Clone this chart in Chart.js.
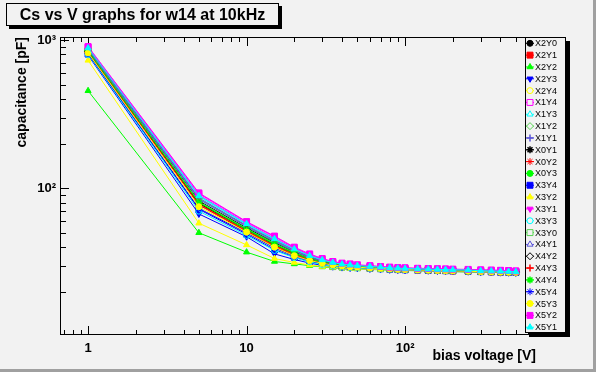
<!DOCTYPE html>
<html>
<head>
<meta charset="utf-8">
<script src="https://cdn.jsdelivr.net/npm/chart.js@4.4.0/dist/chart.umd.min.js"></script>
<style>
    html, body { margin: 0; padding: 0; background: #f2f2f2; }
    #wrap { position: relative; width: 596px; height: 372px; overflow: hidden; }
    #c { display: block; }
    #title {
        position: absolute; left: 6px; top: 3px; width: 271px; height: 21px;
        border: 1px solid #000; box-shadow: 3px 3px 0 #000; background: #f2f2f2;
        font: bold 16px "Liberation Sans", Arial, sans-serif; line-height: 21px;
        text-align: center; color: #000;
    }
</style>
</head>
<body>
<div id="wrap">
    <canvas id="c" width="596" height="372"></canvas>
    <div id="title">Cs vs V graphs for w14 at 10kHz</div>
</div>
<script>
// bias voltage [V]
const voltages = [1, 5, 10, 15, 20, 25, 30, 35, 40, 45, 50, 60, 70, 80, 90, 100, 120, 140, 160, 180, 200, 250, 300, 350, 400, 450, 500];

const names = ["X2Y0", "X2Y1", "X2Y2", "X2Y3", "X2Y4", "X1Y4", "X1Y3", "X1Y2", "X1Y1", "X0Y1", "X0Y2", "X0Y3",
    "X3Y4", "X3Y2", "X3Y1", "X3Y3", "X3Y0", "X4Y1", "X4Y2", "X4Y3", "X4Y4", "X5Y4", "X5Y3", "X5Y2", "X5Y1"];

// capacitance [pF]
const cX2Y0 = [860, 82, 54, 43, 37, 33.8, 32.0, 31.0, 30.3, 30.0, 29.7, 29.3, 29.0, 28.8, 28.6, 28.5, 28.3, 28.2, 28.1, 28.0, 27.9, 27.8, 27.6, 27.5, 27.4, 27.35, 27.3];
const cX2Y1 = [850, 79, 52, 40.5, 35.5, 32.8, 31.3, 30.5, 29.9, 29.6, 29.4, 29.0, 28.8, 28.6, 28.4, 28.3, 28.1, 28.0, 27.9, 27.8, 27.7, 27.6, 27.4, 27.3, 27.2, 27.15, 27.1];
const cX2Y2 = [455, 50, 37, 32, 30.8, 30.0, 29.4, 29.0, 28.8, 28.6, 28.5, 28.3, 28.1, 28.0, 27.9, 27.8, 27.7, 27.6, 27.5, 27.4, 27.3, 27.2, 27.1, 27.0, 26.9, 26.85, 26.8];
const cX2Y3 = [790, 67, 47, 36, 33, 31.2, 30.1, 29.5, 29.1, 28.9, 28.8, 28.5, 28.3, 28.1, 28.0, 27.9, 27.8, 27.7, 27.6, 27.5, 27.4, 27.3, 27.1, 27.0, 26.9, 26.85, 26.8];
const cX2Y4 = [840, 78, 52, 41, 36, 33.2, 31.6, 30.7, 30.1, 29.8, 29.5, 29.1, 28.8, 28.6, 28.4, 28.3, 28.1, 28.0, 27.9, 27.8, 27.7, 27.6, 27.4, 27.3, 27.2, 27.15, 27.1];
const cX1Y4 = [900, 92, 59, 47, 39.5, 35.6, 33.2, 31.8, 31.0, 30.6, 30.2, 29.8, 29.5, 29.2, 29.0, 28.9, 28.7, 28.6, 28.5, 28.4, 28.3, 28.2, 28.0, 27.9, 27.8, 27.7, 27.6];
const cX1Y3 = [880, 88, 57, 45, 38.5, 34.8, 32.6, 31.3, 30.6, 30.2, 29.9, 29.5, 29.2, 29.0, 28.8, 28.6, 28.4, 28.3, 28.2, 28.1, 28.0, 27.9, 27.7, 27.6, 27.5, 27.4, 27.3];
const cX1Y2 = [870, 85, 55.5, 44, 38, 34.3, 32.3, 31.1, 30.4, 30.1, 29.8, 29.4, 29.1, 28.9, 28.7, 28.6, 28.4, 28.3, 28.2, 28.1, 28.0, 27.9, 27.7, 27.6, 27.5, 27.4, 27.3];
const cX1Y1 = [875, 86, 56, 44.5, 38.2, 34.5, 32.4, 31.2, 30.5, 30.2, 29.9, 29.5, 29.2, 29.0, 28.8, 28.6, 28.4, 28.3, 28.2, 28.1, 28.0, 27.9, 27.7, 27.6, 27.5, 27.4, 27.3];
const cX0Y1 = [845, 80, 53, 42, 36.5, 33.5, 31.8, 30.8, 30.2, 29.9, 29.6, 29.2, 28.9, 28.7, 28.5, 28.4, 28.2, 28.1, 28.0, 27.9, 27.8, 27.7, 27.5, 27.4, 27.3, 27.25, 27.2];
const cX0Y2 = [835, 77, 51, 40, 35.2, 32.6, 31.1, 30.3, 29.8, 29.5, 29.3, 28.9, 28.7, 28.5, 28.3, 28.2, 28.0, 27.9, 27.8, 27.7, 27.7, 27.6, 27.4, 27.3, 27.2, 27.15, 27.1];
const cX0Y3 = [855, 81, 53.5, 42.5, 36.8, 33.6, 31.9, 30.9, 30.3, 30.0, 29.7, 29.3, 29.0, 28.8, 28.6, 28.5, 28.3, 28.2, 28.1, 28.0, 27.8, 27.7, 27.5, 27.4, 27.3, 27.25, 27.2];
const cX3Y4 = [805, 72, 49, 38.5, 34.2, 32.0, 30.7, 29.9, 29.5, 29.3, 29.1, 28.8, 28.6, 28.4, 28.2, 28.1, 28.0, 27.9, 27.8, 27.7, 27.6, 27.5, 27.3, 27.2, 27.1, 27.05, 27.0];
const cX3Y2 = [730, 58, 41.4, 33.5, 31.5, 30.3, 29.6, 29.2, 28.9, 28.7, 28.6, 28.4, 28.2, 28.1, 28.0, 27.9, 27.8, 27.7, 27.6, 27.5, 27.4, 27.3, 27.2, 27.1, 27.0, 26.95, 26.9];
const cX3Y1 = [890, 90, 58, 46, 39, 35.2, 32.9, 31.6, 30.8, 30.4, 30.1, 29.7, 29.4, 29.1, 28.9, 28.8, 28.6, 28.5, 28.4, 28.3, 28.2, 28.1, 27.8, 27.7, 27.6, 27.5, 27.4];
const cX3Y3 = [800, 70, 48, 38, 34, 31.8, 30.5, 29.8, 29.4, 29.2, 29.0, 28.7, 28.5, 28.3, 28.2, 28.1, 28.0, 27.9, 27.8, 27.7, 27.6, 27.5, 27.3, 27.2, 27.1, 27.05, 27.0];
const cX3Y0 = [850, 81, 53, 42, 36.6, 33.5, 31.8, 30.8, 30.2, 29.9, 29.6, 29.2, 28.9, 28.7, 28.5, 28.4, 28.2, 28.1, 28.0, 27.9, 27.8, 27.7, 27.5, 27.4, 27.3, 27.25, 27.2];
const cX4Y1 = [865, 84, 55, 43.5, 37.5, 34.0, 32.1, 31.0, 30.4, 30.1, 29.8, 29.4, 29.1, 28.9, 28.7, 28.5, 28.3, 28.2, 28.1, 28.0, 27.9, 27.8, 27.6, 27.5, 27.4, 27.3, 27.2];
const cX4Y2 = [840, 79, 52.5, 41.5, 36.2, 33.2, 31.6, 30.7, 30.1, 29.8, 29.5, 29.1, 28.8, 28.6, 28.4, 28.3, 28.1, 28.0, 27.9, 27.8, 27.7, 27.6, 27.4, 27.3, 27.2, 27.15, 27.1];
const cX4Y3 = [830, 78, 51.5, 41, 35.8, 33.0, 31.4, 30.5, 29.9, 29.6, 29.4, 29.0, 28.8, 28.6, 28.4, 28.3, 28.1, 28.0, 27.9, 27.8, 27.7, 27.6, 27.4, 27.3, 27.2, 27.15, 27.1];
const cX4Y4 = [845, 80, 52.5, 41.8, 36.3, 33.3, 31.7, 30.8, 30.2, 29.9, 29.6, 29.2, 28.9, 28.7, 28.5, 28.4, 28.2, 28.1, 28.0, 27.9, 27.8, 27.7, 27.5, 27.4, 27.3, 27.25, 27.2];
const cX5Y4 = [810, 73, 50, 39.5, 34.8, 32.4, 31.0, 30.2, 29.7, 29.4, 29.2, 28.9, 28.7, 28.5, 28.3, 28.2, 28.1, 28.0, 27.9, 27.8, 27.7, 27.6, 27.4, 27.3, 27.2, 27.15, 27.1];
const cX5Y3 = [820, 75, 50.5, 40, 35, 32.5, 31.1, 30.3, 29.8, 29.5, 29.3, 28.9, 28.7, 28.5, 28.3, 28.2, 28.0, 27.9, 27.8, 27.7, 27.6, 27.5, 27.3, 27.2, 27.1, 27.05, 27.0];
const cX5Y2 = [905, 93, 59.5, 47.5, 40, 36, 33.5, 32.0, 31.2, 30.8, 30.4, 30.0, 29.6, 29.3, 29.1, 29.0, 28.8, 28.7, 28.6, 28.5, 28.4, 28.3, 28.1, 28.0, 27.9, 27.8, 27.6];
const cX5Y1 = [885, 89, 57.5, 45.5, 38.8, 35.0, 32.8, 31.5, 30.7, 30.3, 30.0, 29.6, 29.3, 29.0, 28.8, 28.7, 28.5, 28.4, 28.3, 28.2, 28.1, 28.0, 27.7, 27.6, 27.5, 27.4, 27.3];

const series = [cX2Y0, cX2Y1, cX2Y2, cX2Y3, cX2Y4, cX1Y4, cX1Y3, cX1Y2, cX1Y1, cX0Y1, cX0Y2, cX0Y3,
    cX3Y4, cX3Y2, cX3Y1, cX3Y3, cX3Y0, cX4Y1, cX4Y2, cX4Y3, cX4Y4, cX5Y4, cX5Y3, cX5Y2, cX5Y1];

// ROOT colour index 1..9 and marker 20..30, cycled
const rootColors = ["#000000", "#ff0000", "#00ff00", "#0000ff", "#ffff00", "#ff00ff", "#00ffff", "#59d454", "#5954d8"];
const BG = "#f2f2f2";
const FONT = '"Liberation Sans", Arial, sans-serif';

function markerStyle(m) {
    switch (m) {
        case 20: return { style: "circle", r: 3, fill: true };
        case 21: return { style: "rect", r: 4.2, fill: true };
        case 22: return { style: "triangle", r: 3.5, fill: true };
        case 23: return { style: "triangle", r: 3.5, fill: true, rot: 180 };
        case 24: return { style: "circle", r: 3, fill: false };
        case 25: return { style: "rect", r: 4.2, fill: false };
        case 26: return { style: "triangle", r: 3.5, fill: false };
        case 27: return { style: "rectRot", r: 3.5, fill: false };
        case 28: return { style: "cross", r: 3.5, fill: false, bw: 1.5 };
        case 29: return { style: "star", r: 3.5, fill: false, bw: 1.5 };
        default: return { style: "star", r: 3.5, fill: false };
    }
}

function decadeLabel(value) {
    const l = Math.log10(value);
    if (Math.abs(l - Math.round(l)) > 1e-6) return "";
    const n = Math.round(l);
    if (n === 0) return "1";
    if (n === 1) return "10";
    const sup = { 2: "²", 3: "³", 4: "⁴" };
    return "10" + (sup[n] || "");
}

const datasets = names.map((name, i) => {
    const mk = markerStyle(20 + (i % 11));
    const col = rootColors[i % 9];
    return {
        label: name,
        data: voltages.map((v, k) => ({ x: v, y: series[i][k] })),
        borderColor: col,
        borderWidth: 1,
        pointStyle: mk.style,
        pointRotation: mk.rot || 0,
        pointRadius: mk.r,
        pointBackgroundColor: mk.fill ? col : "rgba(0,0,0,0)",
        pointBorderColor: col,
        pointBorderWidth: mk.bw || 1,
        tension: 0,
        fill: false,
        order: 100 - i,
    };
});

// fond, cadre et graduations vers l'intérieur (style ROOT)
const rootFrame = {
    id: "rootFrame",
    beforeDraw(chart) {
        const ctx = chart.ctx;
        ctx.save();
        ctx.fillStyle = BG;
        ctx.fillRect(0, 0, chart.width, chart.height);
        ctx.fillStyle = "#a0a0a0";
        ctx.fillRect(chart.width - 3, 0, 3, chart.height);
        ctx.fillRect(0, chart.height - 3, chart.width, 3);
        ctx.restore();
    },
    beforeDatasetsDraw(chart) {
        const ctx = chart.ctx;
        const { left, right, top, bottom } = chart.chartArea;
        const xs = chart.scales.x, ys = chart.scales.y;
        ctx.save();
        ctx.strokeStyle = "#000";
        ctx.lineWidth = 1;
        ctx.strokeRect(left + 0.5, top + 0.5, right - left - 1, bottom - top - 1);
        ctx.beginPath();
        for (let d = -1; d <= 3; d++) {
            for (let m = 1; m <= 9; m++) {
                const v = m * Math.pow(10, d);
                if (v < xs.min || v > xs.max) continue;
                const px = Math.round(xs.getPixelForValue(v)) + 0.5;
                const len = m === 1 ? 9 : 5;
                ctx.moveTo(px, bottom); ctx.lineTo(px, bottom - len);
                ctx.moveTo(px, top); ctx.lineTo(px, top + len);
            }
        }
        for (let d = 0; d <= 3; d++) {
            for (let m = 1; m <= 9; m++) {
                const v = m * Math.pow(10, d);
                if (v < ys.min || v > ys.max) continue;
                const py = Math.round(ys.getPixelForValue(v)) + 0.5;
                const len = m === 1 ? 9 : 6;
                ctx.moveTo(left, py); ctx.lineTo(left + len, py);
                ctx.moveTo(right, py); ctx.lineTo(right - len, py);
            }
        }
        ctx.stroke();
        ctx.restore();
    },
    afterDraw(chart) {
        // légende
        const ctx = chart.ctx;
        const x0 = 525, y0 = 37, w = 41, h = 296;
        ctx.save();
        ctx.fillStyle = "#000";
        ctx.fillRect(x0 + 4, y0 + 4, w, h);
        ctx.fillStyle = BG;
        ctx.fillRect(x0, y0, w, h);
        ctx.strokeStyle = "#000";
        ctx.lineWidth = 1;
        ctx.strokeRect(x0 + 0.5, y0 + 0.5, w - 1, h - 1);
        chart.data.datasets.forEach((ds, i) => {
            const y = y0 + 6.3 + i * 11.83;
            ctx.strokeStyle = ds.borderColor;
            ctx.lineWidth = 1;
            ctx.beginPath();
            ctx.moveTo(526, y); ctx.lineTo(534, y);
            ctx.stroke();
            ctx.fillStyle = ds.pointBackgroundColor === "rgba(0,0,0,0)" ? BG : ds.pointBackgroundColor;
            ctx.lineWidth = ds.pointBorderWidth;
            if (Chart.helpers && Chart.helpers.drawPoint) {
                Chart.helpers.drawPoint(ctx, {
                    pointStyle: ds.pointStyle, rotation: ds.pointRotation,
                    radius: ds.pointRadius, borderWidth: ds.pointBorderWidth
                }, 530, y);
            } else {
                ctx.fillRect(527, y - 3, 6, 6);
            }
            ctx.fillStyle = "#000";
            ctx.font = "9px " + FONT;
            ctx.textBaseline = "middle";
            ctx.textAlign = "left";
            ctx.fillText(ds.label, 535, y + 0.5);
        });
        ctx.restore();
    }
};

new Chart(document.getElementById("c"), {
    type: "line",
    data: { datasets: datasets },
    plugins: [rootFrame],
    options: {
        responsive: false,
        animation: false,
        devicePixelRatio: 1,
        layout: { padding: { top: 37, right: 60, left: 0, bottom: 0 } },
        plugins: { legend: { display: false }, tooltip: { enabled: false } },
        scales: {
            x: {
                type: "logarithmic",
                min: 0.665,
                max: 670,
                grid: { display: false, drawTicks: false },
                border: { display: false },
                ticks: {
                    autoSkip: false, maxRotation: 0, padding: 6, color: "#000",
                    font: { family: FONT, weight: "bold", size: 13 },
                    callback: decadeLabel
                },
                title: {
                    display: true, text: "bias voltage [V]", align: "end", color: "#000",
                    font: { family: FONT, weight: "bold", size: 14 },
                    padding: { top: 0, bottom: 7 }
                },
                afterFit(s) { s.height = 37; }
            },
            y: {
                type: "logarithmic",
                min: 10.2,
                max: 1050,
                grid: { display: false, drawTicks: false },
                border: { display: false },
                ticks: {
                    autoSkip: false, padding: 4, color: "#000",
                    font: { family: FONT, weight: "bold", size: 13 },
                    callback: decadeLabel
                },
                title: {
                    display: true, text: "capacitance [pF]", align: "end", color: "#000",
                    font: { family: FONT, weight: "bold", size: 14 },
                    padding: { top: 14, bottom: 0 }
                },
                afterFit(s) { s.width = 60; }
            }
        }
    }
});
</script>
</body>
</html>
